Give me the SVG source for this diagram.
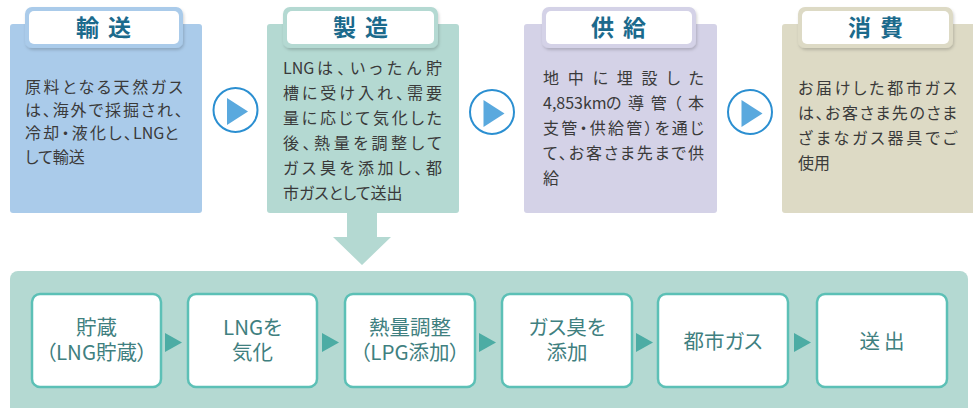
<svg xmlns="http://www.w3.org/2000/svg" width="973" height="408" viewBox="0 0 973 408">
<defs>
<style>
.body{font-family:"Noto Sans CJK JP","Noto Sans",sans-serif;font-size:16px;fill:#3a3a3a;font-feature-settings:"palt"}
.title{font-family:"Noto Sans CJK JP","Noto Sans",sans-serif;font-size:23px;font-weight:bold;fill:#1b6a8c;letter-spacing:9px}
.box{fill:#fff;stroke:#5cc0b6;stroke-width:2.5}
.btxt{font-family:"Noto Sans CJK JP","Noto Sans",sans-serif;font-size:20.5px;fill:#3f8080;text-anchor:middle;font-feature-settings:"palt"}
.circ{fill:#fff;stroke:#2b8fd1;stroke-width:2}
.ctri{fill:#5aa9de}
.btri{fill:#4caca4}
</style>
<filter id="sh" x="-10%" y="-20%" width="120%" height="150%">
<feDropShadow dx="1" dy="2" stdDeviation="1.5" flood-color="#000" flood-opacity="0.18"/>
</filter>
</defs>

<g id="panel-yuso">
<rect x="10" y="24" width="192" height="189" rx="3" fill="#aacbea"/>
<rect x="25" y="7" width="158" height="41" rx="7" fill="#aacbea" filter="url(#sh)"/>
<rect x="29" y="11" width="150" height="33" rx="5" fill="#fff"/>
<text class="title" x="108" y="36" text-anchor="middle">輸送</text>
<text class="body" x="25" y="93" textLength="158" lengthAdjust="spacing">原料となる天然ガス</text>
<text class="body" x="25" y="116" textLength="158" lengthAdjust="spacing">は、海外で採掘され、</text>
<text class="body" y="139"><tspan x="25" textLength="107" lengthAdjust="spacing">冷却・液化し、</tspan><tspan x="133">LNGと</tspan></text>
<text class="body" x="25" y="163">して輸送</text>
</g>

<g id="panel-seizo">
<rect x="267" y="24" width="192" height="189" rx="3" fill="#b4d9d2"/>
<polygon points="347,212 377,212 377,237 391,237 362,265 333,237 347,237" fill="#b4d9d2"/>
<rect x="283" y="7" width="155" height="41" rx="7" fill="#b4d9d2" filter="url(#sh)"/>
<rect x="287" y="11" width="147" height="33" rx="5" fill="#fff"/>
<text class="title" x="365" y="36" text-anchor="middle">製造</text>
<text class="body" y="74"><tspan x="283">LNG</tspan><tspan x="317" textLength="125" lengthAdjust="spacing">は、いったん貯</tspan></text>
<text class="body" x="283" y="99" textLength="159" lengthAdjust="spacing">槽に受け入れ、需要</text>
<text class="body" x="283" y="124" textLength="159" lengthAdjust="spacing">量に応じて気化した</text>
<text class="body" x="283" y="149" textLength="159" lengthAdjust="spacing">後、熱量を調整して</text>
<text class="body" x="283" y="174" textLength="159" lengthAdjust="spacing">ガス臭を添加し、都</text>
<text class="body" x="283" y="199">市ガスとして送出</text>
</g>

<g id="panel-kyokyu">
<rect x="524" y="24" width="193" height="189" rx="3" fill="#d4d2e7"/>
<rect x="542" y="7" width="154" height="41" rx="7" fill="#d4d2e7" filter="url(#sh)"/>
<rect x="546" y="11" width="146" height="33" rx="5" fill="#fff"/>
<text class="title" x="623" y="36" text-anchor="middle">供給</text>
<text class="body" x="543" y="84" textLength="161" lengthAdjust="spacing">地中に埋設した</text>
<text class="body" y="109"><tspan x="543">4,853km</tspan><tspan x="606" textLength="98" lengthAdjust="spacing">の導管（本</tspan></text>
<text class="body" x="543" y="134" textLength="161" lengthAdjust="spacing">支管・供給管）を通じ</text>
<text class="body" x="543" y="159" textLength="161" lengthAdjust="spacing">て、お客さま先まで供</text>
<text class="body" x="543" y="184">給</text>
</g>

<g id="panel-shohi">
<rect x="782" y="24" width="200" height="189" rx="3" fill="#dddac5"/>
<rect x="798" y="7" width="155" height="41" rx="7" fill="#dddac5" filter="url(#sh)"/>
<rect x="802" y="11" width="147" height="33" rx="5" fill="#fff"/>
<text class="title" x="880" y="36" text-anchor="middle">消費</text>
<text class="body" x="798" y="94" textLength="159" lengthAdjust="spacing">お届けした都市ガス</text>
<text class="body" x="798" y="119" textLength="159" lengthAdjust="spacing">は、お客さま先のさま</text>
<text class="body" x="798" y="144" textLength="159" lengthAdjust="spacing">ざまなガス器具でご</text>
<text class="body" x="798" y="169">使用</text>
</g>

<g id="process-panel">
<rect x="10" y="271" width="958" height="150" rx="8" fill="#b4d9d2"/>
</g>

<g id="connectors">
<circle class="circ" cx="235.5" cy="110" r="22"/>
<polygon class="ctri" points="227,98 248,111.5 227,125"/>
<circle class="circ" cx="492" cy="112" r="22"/>
<polygon class="ctri" points="483.5,100 504.5,113.5 483.5,127"/>
<circle class="circ" cx="750" cy="112" r="22"/>
<polygon class="ctri" points="741.5,100 762.5,113.5 741.5,127"/>
<polygon class="btri" points="165,333 182,342.5 165,352"/>
<polygon class="btri" points="322,333 339,342.5 322,352"/>
<polygon class="btri" points="479,333 496,342.5 479,352"/>
<polygon class="btri" points="636,333 653,342.5 636,352"/>
<polygon class="btri" points="794,333 811,342.5 794,352"/>
</g>

<g id="step-chozo">
<rect class="box" x="32" y="294" width="129" height="93" rx="8"/>
<text class="btxt"><tspan x="96.5" y="335">貯蔵</tspan><tspan x="96.5" y="360">（LNG貯蔵）</tspan></text>
</g>
<g id="step-kika">
<rect class="box" x="188" y="294" width="129" height="93" rx="8"/>
<text class="btxt"><tspan x="252.5" y="335">LNGを</tspan><tspan x="252.5" y="360">気化</tspan></text>
</g>
<g id="step-netsuryo">
<rect class="box" x="345" y="294" width="130" height="93" rx="8"/>
<text class="btxt"><tspan x="410" y="335">熱量調整</tspan><tspan x="410" y="360">（LPG添加）</tspan></text>
</g>
<g id="step-shuki">
<rect class="box" x="502" y="294" width="130" height="93" rx="8"/>
<text class="btxt"><tspan x="567" y="335">ガス臭を</tspan><tspan x="567" y="360">添加</tspan></text>
</g>
<g id="step-toshigas">
<rect class="box" x="658" y="294" width="130" height="93" rx="8"/>
<text class="btxt" x="723" y="349">都市ガス</text>
</g>
<g id="step-soshutsu">
<rect class="box" x="817" y="294" width="130" height="93" rx="8"/>
<text class="btxt" x="884" y="349" style="letter-spacing:4px">送出</text>
</g>
</svg>
